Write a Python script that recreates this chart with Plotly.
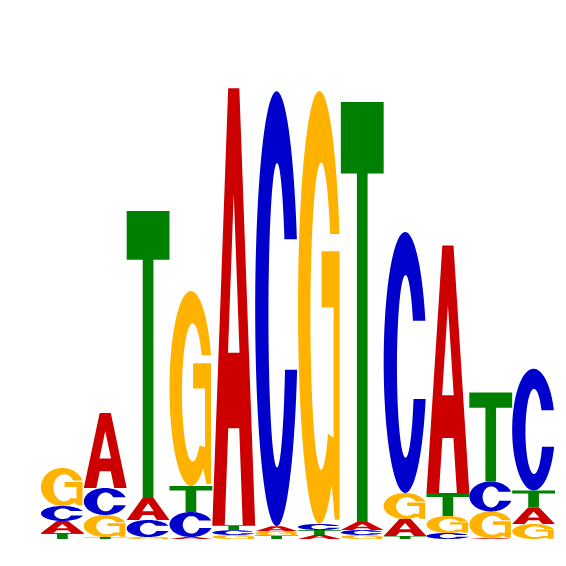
import numpy as np
import plotly.graph_objects as go

# sequence logo data (information content per base, bits)
positions = list(range(1, 13))
bits_A = [0.048, 0.300, 0.088, 0.008, 1.748, 0.020, 0.016, 0.032, 0.068, 0.990, 0.004, 0.066]
bits_C = [0.060, 0.108, 0.068, 0.100, 0.019, 1.740, 0.024, 0.020, 1.044, 0.024, 0.120, 0.487]
bits_G = [0.152, 0.088, 0.008, 0.780, 0.016, 0.017, 1.732, 0.016, 0.104, 0.068, 0.106, 0.060]
bits_T = [0.024, 0.008, 1.148, 0.104, 0.020, 0.014, 0.020, 1.680, 0.012, 0.092, 0.356, 0.068]

colors = {'A': '#CC0000', 'C': '#0000CC', 'G': '#FFB300', 'T': '#008000'}


def arc(cx, cy, rx, ry, a0, a1, n=48):
    t = np.radians(np.linspace(a0, a1, n))
    return list(zip(cx + rx * np.cos(t), cy + ry * np.sin(t)))


def glyph(letter):
    # outlines in a unit box, list of closed polygons
    if letter == 'T':
        return [[(0, 1), (1, 1), (1, 0.83), (0.625, 0.83), (0.625, 0),
                 (0.375, 0), (0.375, 0.83), (0, 0.83)]]
    if letter == 'A':
        outer = [(0, 0), (0.37, 1), (0.63, 1), (1, 0), (0.71, 0), (0.628, 0.222),
                 (0.372, 0.222), (0.29, 0)]
        hole = [(0.365, 0.395), (0.5, 0.76), (0.635, 0.395)]
        return [outer, hole]
    if letter == 'C':
        hi, lo = 0.66, 0.36
        icx, icy, irx, iry = 0.51, 0.485, 0.2, 0.35
        o1 = np.degrees(np.arcsin((hi - 0.5) / 0.5))
        o2 = 360 + np.degrees(np.arcsin((lo - 0.5) / 0.5))
        i1 = np.degrees(np.arcsin((hi - icy) / iry))
        i2 = 360 + np.degrees(np.arcsin((lo - icy) / iry))
        pts = arc(0.5, 0.5, 0.5, 0.5, o1, o2, 80) + arc(icx, icy, irx, iry, i2, i1, 60)
        return [pts]
    if letter == 'G':
        hi = 0.67
        icx, icy, irx, iry = 0.54, 0.48, 0.25, 0.355
        o1 = np.degrees(np.arcsin((hi - 0.5) / 0.5))
        i1 = np.degrees(np.arcsin((hi - icy) / iry))
        pts = arc(0.5, 0.5, 0.5, 0.5, o1, 305, 80)
        pts += [(0.86, 0.01), (0.97, 0.01), (0.97, 0.63), (0.55, 0.63), (0.55, 0.50),
                (0.83, 0.50), (0.83, 0.2)]
        pts += arc(icx, icy, irx, iry, -50, i1 - 360, 60)
        return [pts]


shapes = []
table = {'A': bits_A, 'C': bits_C, 'G': bits_G, 'T': bits_T}
for i, pos in enumerate(positions):
    col = sorted(table.keys(), key=lambda b: table[b][i])
    base = 0.0
    for b in col:
        h = table[b][i]
        x0 = pos - 0.5
        path = ''
        for poly in glyph(b):
            path += 'M ' + ' L '.join('%.4f,%.5f' % (x0 + u, base + v * h) for u, v in poly) + ' Z '
        shapes.append(dict(type='path', path=path.strip(), xref='x', yref='y',
                           fillcolor=colors[b], fillrule='evenodd',
                           line=dict(width=0), layer='above'))
        base += h

fig = go.Figure(go.Scatter(x=[], y=[]))
fig.update_layout(
    width=566, height=566,
    margin=dict(l=33, r=19, t=31, b=35),
    plot_bgcolor='white', paper_bgcolor='white',
    showlegend=False,
    shapes=shapes,
    xaxis=dict(range=[0.5, 12.5], visible=False),
    yaxis=dict(range=[0, 2], visible=False),
)

fig.write_html("out.html")
